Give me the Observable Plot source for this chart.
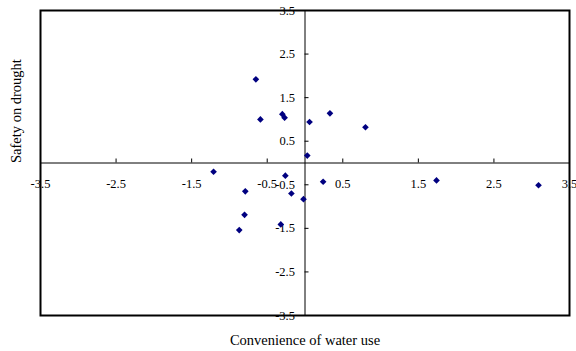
<!DOCTYPE html>
<html>
<head>
<meta charset="utf-8">
<script src="https://cdn.jsdelivr.net/npm/d3@7"></script>
<script src="https://cdn.jsdelivr.net/npm/@observablehq/plot@0.6"></script>
<style>
  html, body { margin: 0; padding: 0; background: #fff; }
  #chart svg { display: block; }
</style>
</head>
<body>
<div id="chart"></div>
<script>
// Data
const convenience = [-0.65, -0.59, -0.30, -0.27, 0.06, 0.33, 0.80, 0.03, -1.21, -0.26, 0.24, -0.79, -0.18, -0.02, -0.80, -0.32, -0.87, 1.74, 3.09];
const safety      = [ 1.92,  1.00,  1.12,  1.04, 0.94, 1.14, 0.82, 0.17, -0.20, -0.29, -0.43, -0.65, -0.70, -0.83, -1.19, -1.41, -1.54, -0.40, -0.51];
const tickValues = [-3.5, -2.5, -1.5, -0.5, 0.5, 1.5, 2.5, 3.5];
const tickLabels = ["-3.5", "-2.5", "-1.5", "-0.5", "0.5", "1.5", "2.5", "3.5"];
const xTitle = "Convenience of water use";
const yTitle = "Safety on drought";

const points = convenience.map((x, i) => ({x, y: safety[i]}));
const ticks = tickValues.map((v, i) => ({v, label: tickLabels[i]}));
const font = "'Times New Roman', 'Liberation Serif', serif";

const chart = Plot.plot({
  width: 576,
  height: 351,
  marginLeft: 40,
  marginRight: 7,
  marginTop: 10,
  marginBottom: 36,
  style: {fontFamily: font, background: "#fff"},
  x: {domain: [-3.5, 3.5], axis: null},
  y: {domain: [-3.5, 3.5], axis: null},
  marks: [
    // crossing axes
    Plot.ruleY([0], {stroke: "#000", strokeWidth: 1}),
    Plot.ruleX([0], {stroke: "#000", strokeWidth: 1}),
    // tick marks
    Plot.ruleX(ticks, {x: "v", y1: 0, y2: 0, insetTop: -4, stroke: "#000"}),
    Plot.ruleY(ticks, {y: "v", x1: 0, x2: 0, insetRight: -4, stroke: "#000"}),
    // tick labels
    Plot.text(ticks, {x: "v", y: 0, text: "label", dy: 21, fontSize: 12.5, fill: "#000", lineAnchor: "middle"}),
    Plot.text(ticks, {y: "v", x: 0, text: "label", dx: -10, textAnchor: "end", fontSize: 12.5, fill: "#000", lineAnchor: "middle"}),
    // points
    Plot.dot(points, {x: "x", y: "y", symbol: "diamond2", r: 3, fill: "#000080", stroke: "none"}),
    // frame
    Plot.frame({stroke: "#000", strokeWidth: 2}),
    // axis titles
    Plot.text([xTitle], {frameAnchor: "bottom", dy: 25, fontSize: 14.5, fill: "#000", lineAnchor: "middle"}),
    Plot.text([yTitle], {frameAnchor: "left", dx: -24, rotate: -90, fontSize: 14.5, fill: "#000", lineAnchor: "middle"})
  ]
});
document.getElementById("chart").appendChild(chart);
</script>
</body>
</html>
